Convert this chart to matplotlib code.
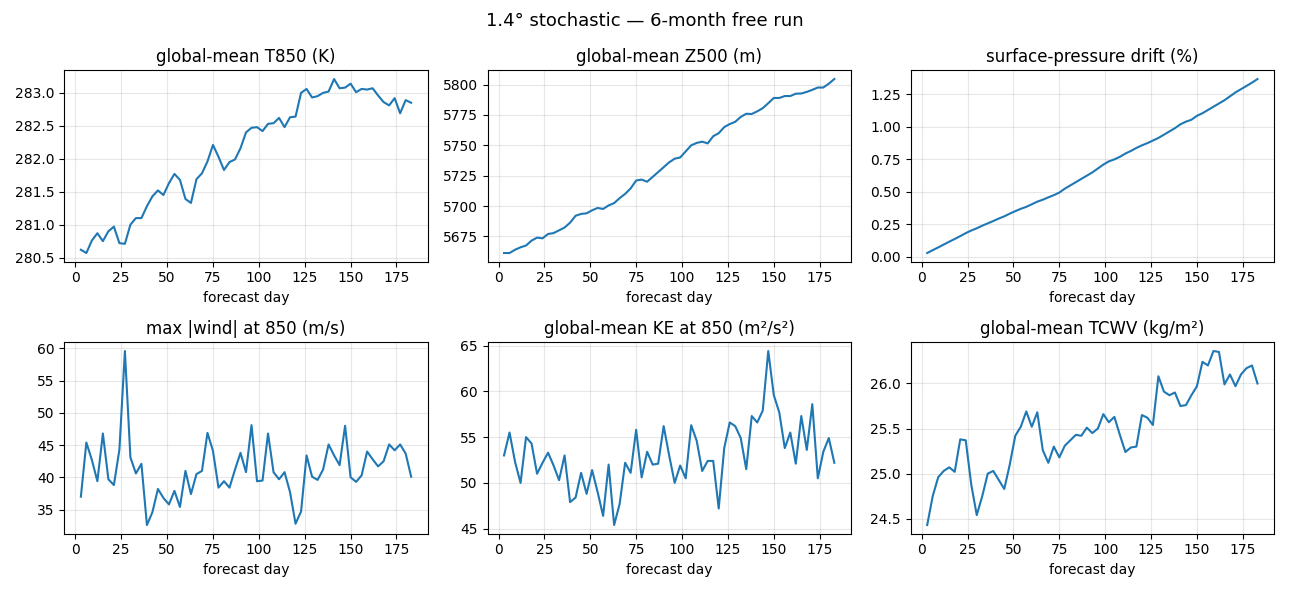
import numpy as np
import matplotlib
matplotlib.use("Agg")
import matplotlib.pyplot as plt
from matplotlib.ticker import MultipleLocator

# forecast days, every 3 days over ~6 months
days = np.arange(3, 184, 3)

t850 = [280.62, 280.57, 280.76, 280.87, 280.75, 280.90, 280.97, 280.72, 280.71, 281.00,
        281.10, 281.10, 281.28, 281.43, 281.52, 281.45, 281.63, 281.77, 281.68, 281.39,
        281.33, 281.69, 281.78, 281.96, 282.21, 282.03, 281.83, 281.95, 281.99, 282.16,
        282.40, 282.47, 282.48, 282.42, 282.53, 282.54, 282.62, 282.48, 282.63, 282.64,
        283.00, 283.06, 282.93, 282.95, 283.00, 283.02, 283.21, 283.07, 283.08, 283.14,
        283.01, 283.06, 283.05, 283.07, 282.96, 282.86, 282.81, 282.92, 282.69, 282.89,
        282.85]

z500 = [5661.3, 5661.3, 5664.0, 5666.0, 5667.5, 5671.5, 5674.0, 5673.4, 5677.0, 5677.7,
        5680.0, 5682.3, 5686.3, 5692.0, 5693.5, 5694.0, 5696.5, 5698.4, 5697.6, 5700.5,
        5702.4, 5706.5, 5710.0, 5714.5, 5721.0, 5721.8, 5720.0, 5724.0, 5728.0, 5732.0,
        5736.0, 5739.0, 5740.0, 5745.0, 5750.0, 5752.0, 5753.0, 5751.6, 5757.5, 5760.0,
        5765.0, 5767.5, 5769.4, 5773.4, 5776.0, 5775.8, 5778.0, 5780.6, 5784.7, 5789.0,
        5789.0, 5790.6, 5790.6, 5792.5, 5792.7, 5794.0, 5795.7, 5797.6, 5797.6, 5800.8,
        5804.6]

sp_drift = [0.030, 0.052, 0.073, 0.095, 0.117, 0.138, 0.160, 0.183, 0.203, 0.220,
            0.240, 0.258, 0.276, 0.295, 0.312, 0.333, 0.352, 0.370, 0.385, 0.405,
            0.425, 0.440, 0.458, 0.475, 0.495, 0.525, 0.550, 0.575, 0.600, 0.625,
            0.650, 0.680, 0.710, 0.735, 0.750, 0.770, 0.795, 0.815, 0.838, 0.858,
            0.875, 0.895, 0.915, 0.940, 0.965, 0.990, 1.020, 1.040, 1.055, 1.085,
            1.105, 1.130, 1.155, 1.180, 1.205, 1.235, 1.265, 1.290, 1.315, 1.340,
            1.368]

max_wind = [37.0, 45.4, 42.7, 39.4, 46.8, 39.7, 38.8, 44.3, 59.6, 43.1,
            40.6, 42.1, 32.6, 34.6, 38.2, 36.8, 35.8, 37.9, 35.4, 41.0,
            37.4, 40.5, 41.0, 46.9, 44.1, 38.4, 39.4, 38.4, 41.2, 43.8,
            40.8, 48.1, 39.4, 39.5, 46.8, 40.8, 39.7, 40.8, 37.7, 32.8,
            34.7, 43.4, 40.1, 39.6, 41.2, 45.1, 43.4, 41.9, 48.0, 40.0,
            39.3, 40.3, 44.0, 42.8, 41.7, 42.5, 45.1, 44.2, 45.1, 43.7,
            40.1]

ke850 = [53.0, 55.5, 52.3, 50.0, 55.0, 54.3, 51.0, 52.2, 53.3, 51.9,
         50.3, 53.0, 47.9, 48.4, 51.1, 48.8, 51.4, 49.0, 46.4, 52.0,
         45.4, 47.7, 52.2, 51.1, 55.8, 50.6, 53.4, 52.0, 52.1, 56.2,
         53.0, 50.0, 51.9, 50.5, 56.3, 54.6, 51.3, 52.4, 52.4, 47.2,
         53.8, 56.6, 56.2, 54.9, 51.5, 57.3, 56.6, 57.9, 64.4, 59.6,
         57.7, 53.8, 55.5, 52.1, 57.3, 53.6, 58.6, 50.5, 53.4, 54.9,
         52.2]

tcwv = [24.43, 24.75, 24.96, 25.03, 25.07, 25.02, 25.38, 25.37, 24.88, 24.54,
        24.75, 25.00, 25.03, 24.93, 24.83, 25.10, 25.42, 25.52, 25.69, 25.52,
        25.68, 25.26, 25.12, 25.30, 25.18, 25.31, 25.37, 25.43, 25.42, 25.51,
        25.45, 25.50, 25.66, 25.57, 25.63, 25.43, 25.24, 25.29, 25.30, 25.65,
        25.62, 25.54, 26.08, 25.91, 25.87, 25.90, 25.75, 25.76, 25.87, 25.97,
        26.24, 26.20, 26.36, 26.35, 25.99, 26.10, 25.97, 26.10, 26.17, 26.20,
        26.00]

titles = ["global-mean T850 (K)", "global-mean Z500 (m)", "surface-pressure drift (%)",
          "max |wind| at 850 (m/s)", "global-mean KE at 850 (m²/s²)", "global-mean TCWV (kg/m²)"]
series = [t850, z500, sp_drift, max_wind, ke850, tcwv]

fig, axes = plt.subplots(2, 3, figsize=(12.89, 5.92), dpi=100)
for ax, title, vals in zip(axes.flat, titles, series):
    ax.plot(days, vals, color="tab:blue", lw=1.5)
    ax.set_title(title)
    ax.set_xlabel("forecast day")
    ax.grid(alpha=0.3)

# Z500 panel uses 25 m tick spacing
axes[0, 1].yaxis.set_major_locator(MultipleLocator(25))

fig.suptitle("1.4° stochastic — 6-month free run", fontsize=13)
plt.tight_layout()
fig.savefig("out.png", dpi=100)
